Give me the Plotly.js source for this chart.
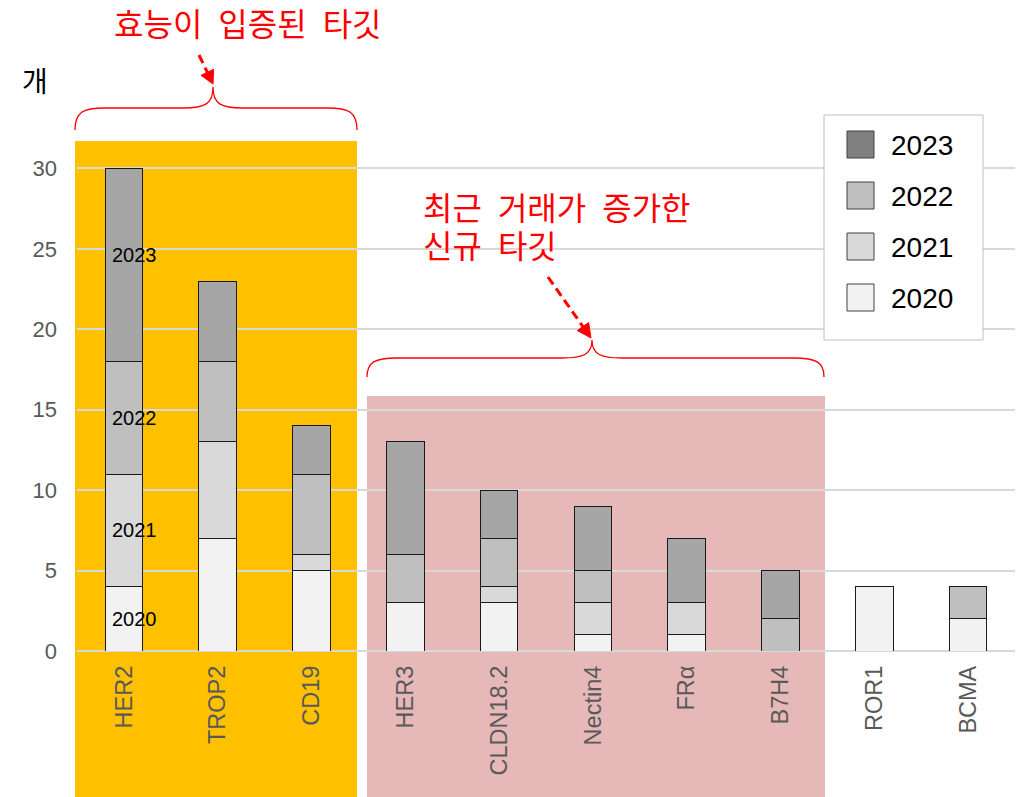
<!DOCTYPE html>
<html>
<head>
<meta charset="utf-8">
<script src="https://cdn.plot.ly/plotly-3.0.1.min.js"></script>
<style>html,body{margin:0;padding:0;background:#fff;}#chart{width:1030px;height:797px;}</style>
</head>
<body>
<div id="chart"></div>
<script>
// ---- data ----
const categories = ['HER2','TROP2','CD19','HER3','CLDN18.2','Nectin4','FRα','B7H4','ROR1','BCMA'];
const seriesNames = ['2020','2021','2022','2023'];
const v2020 = [4,7,5,3,3,1,1,0,4,2];
const v2021 = [7,6,1,0,1,2,2,0,0,0];
const v2022 = [7,5,5,3,3,2,0,2,0,2];
const v2023 = [12,5,3,7,3,4,4,3,0,0];
const yTickVals = [0,5,10,15,20,25,30,35];
const yTickText = ['0','5','10','15','20','25','30',''];
const unitLabel = '개';
const provenLabel = '효능이\u2002입증된\u2002타깃';
const newLabelLine1 = '최근\u2002거래가\u2002증가한';
const newLabelLine2 = '신규\u2002타깃';
const labelCategory = 'HER2';

// ---- style ----
const barColors = ['#f2f2f2','#d9d9d9','#bfbfbf','#a6a6a6'];
const legendColors = ['#f2f2f2','#d9d9d9','#bfbfbf','#808080'];
const FONT = 'Liberation Sans, Arial, Noto Sans CJK KR, sans-serif';
const KFONT = 'Noto Sans CJK KR, Liberation Sans, sans-serif';

const L = 77, T = 88, W = 938, H = 563;
const px = p => (p - L) / W;
const py = p => (T + H - p) / H;

const values = [v2020, v2021, v2022, v2023];
const traces = seriesNames.map((name, i) => ({
  type: 'bar', name: name, x: categories, y: values[i],
  marker: {color: barColors[i], line: {color: '#1a1a1a', width: 1}},
  showlegend: false, hoverinfo: 'skip'
}));

const shapes = [];
const annotations = [];

// highlight areas
shapes.push({type:'rect', xref:'paper', yref:'paper', layer:'below',
  x0:px(75), x1:px(357), y0:py(141), y1:py(797), fillcolor:'#FFC000', line:{width:0}});
shapes.push({type:'rect', xref:'paper', yref:'paper', layer:'below',
  x0:px(367), x1:px(825), y0:py(396), y1:py(797), fillcolor:'#E6B9B8', line:{width:0}});

// braces
function P(x, y){ return px(x) + ',' + py(y); }
function brace(xl, xr, xm, yEnd, yH, yTip, r){
  return 'M' + P(xl, yEnd) +
    ' C' + P(xl, yH + 4) + ' ' + P(xl + 8, yH) + ' ' + P(xl + r, yH) +
    ' L' + P(xm - r, yH) +
    ' C' + P(xm - 8, yH) + ' ' + P(xm, yH - 4) + ' ' + P(xm, yTip) +
    ' C' + P(xm, yH - 4) + ' ' + P(xm + 8, yH) + ' ' + P(xm + r, yH) +
    ' L' + P(xr - r, yH) +
    ' C' + P(xr - 8, yH) + ' ' + P(xr, yH + 4) + ' ' + P(xr, yEnd);
}
shapes.push({type:'path', xref:'paper', yref:'paper', path: brace(75, 357, 213, 130, 108, 87, 30),
  line:{color:'#ff0000', width:1.3}});
shapes.push({type:'path', xref:'paper', yref:'paper', path: brace(367, 824, 592, 377, 358, 340, 30),
  line:{color:'#ff0000', width:1.3}});

// dashed arrows
function arrow(x0, y0, x1, y1, len, hw){
  const dx = x1 - x0, dy = y1 - y0, d = Math.hypot(dx, dy);
  const ux = dx / d, uy = dy / d;
  const bx = x1 - ux * len, by = y1 - uy * len;
  shapes.push({type:'line', xref:'paper', yref:'paper', x0:px(x0), y0:py(y0), x1:px(bx), y1:py(by),
    line:{color:'#ff0000', width:3, dash:'9px,5px'}});
  shapes.push({type:'path', xref:'paper', yref:'paper',
    path:'M' + P(x1, y1) + ' L' + P(bx + uy * hw, by - ux * hw) + ' L' + P(bx - uy * hw, by + ux * hw) + ' Z',
    fillcolor:'#ff0000', line:{color:'#ff0000', width:1}});
}
arrow(199, 55, 213, 84, 13, 7);
arrow(548, 277, 591, 338, 14, 7);

// legend (custom, large swatches)
shapes.push({type:'rect', xref:'paper', yref:'paper', layer:'above',
  x0:px(824), x1:px(983), y0:py(115), y1:py(340), fillcolor:'#ffffff', line:{color:'#bfbfbf', width:1}});
const legendOrder = [3,2,1,0];
legendOrder.forEach((si, k) => {
  const top = 131 + k * 51;
  shapes.push({type:'rect', xref:'paper', yref:'paper', layer:'above',
    x0:px(847), x1:px(874), y0:py(top), y1:py(top + 27), fillcolor:legendColors[si], line:{color:'#404040', width:1}});
  annotations.push({xref:'paper', yref:'paper', x:px(889), y:py(top + 14), xanchor:'left', yanchor:'middle',
    text:seriesNames[si], showarrow:false, font:{family:FONT, size:28, color:'#000'}});
});

// in-bar series labels on HER2
const ci = categories.indexOf(labelCategory);
let base = 0;
seriesNames.forEach((name, i) => {
  const v = values[i][ci];
  annotations.push({xref:'x', yref:'y', x:labelCategory, y: base + v / 2, xanchor:'left', yanchor:'middle',
    xshift:-14, yshift: i === 3 ? 10 : 0, text:name, showarrow:false, font:{family:FONT, size:20, color:'#000'}});
  base += v;
});

// text labels
annotations.push({xref:'paper', yref:'paper', x:px(35), y:py(80), xanchor:'center', yanchor:'middle',
  text:unitLabel, showarrow:false, font:{family:KFONT, size:28, color:'#000'}});
annotations.push({xref:'paper', yref:'paper', x:px(248), y:py(22), xanchor:'center', yanchor:'middle', borderpad:0,
  text:provenLabel, showarrow:false, font:{family:KFONT, size:32, color:'#ff0000'}});
annotations.push({xref:'paper', yref:'paper', x:px(422), y:py(206), xanchor:'left', yanchor:'middle', borderpad:0,
  text:newLabelLine1, showarrow:false, font:{family:KFONT, size:32, color:'#ff0000'}});
annotations.push({xref:'paper', yref:'paper', x:px(422), y:py(244), xanchor:'left', yanchor:'middle', borderpad:0,
  text:newLabelLine2, showarrow:false, font:{family:KFONT, size:32, color:'#ff0000'}});

const layout = {
  width:1030, height:797,
  margin:{l:L, r:1030 - L - W, t:T, b:797 - T - H, pad:0},
  paper_bgcolor:'#ffffff', plot_bgcolor:'rgba(0,0,0,0)',
  barmode:'stack', bargap:0.6,
  showlegend:false,
  xaxis:{type:'category', tickangle:-90, ticks:'', showgrid:false, zeroline:false, showline:false,
    tickfont:{family:FONT, size:23.5, color:'#595959'}, ticklabelstandoff:9, fixedrange:true},
  yaxis:{range:[0,35], tickvals:yTickVals, ticktext:yTickText, ticks:'', showgrid:true,
    gridcolor:'#d9d9d9', gridwidth:2, zeroline:true, zerolinecolor:'#d9d9d9', zerolinewidth:2, showline:false,
    tickfont:{family:FONT, size:22, color:'#595959'}, ticklabelstandoff:19, fixedrange:true},
  shapes:shapes, annotations:annotations
};

Plotly.newPlot('chart', traces, layout, {staticPlot:true, displayModeBar:false});
</script>
</body>
</html>
